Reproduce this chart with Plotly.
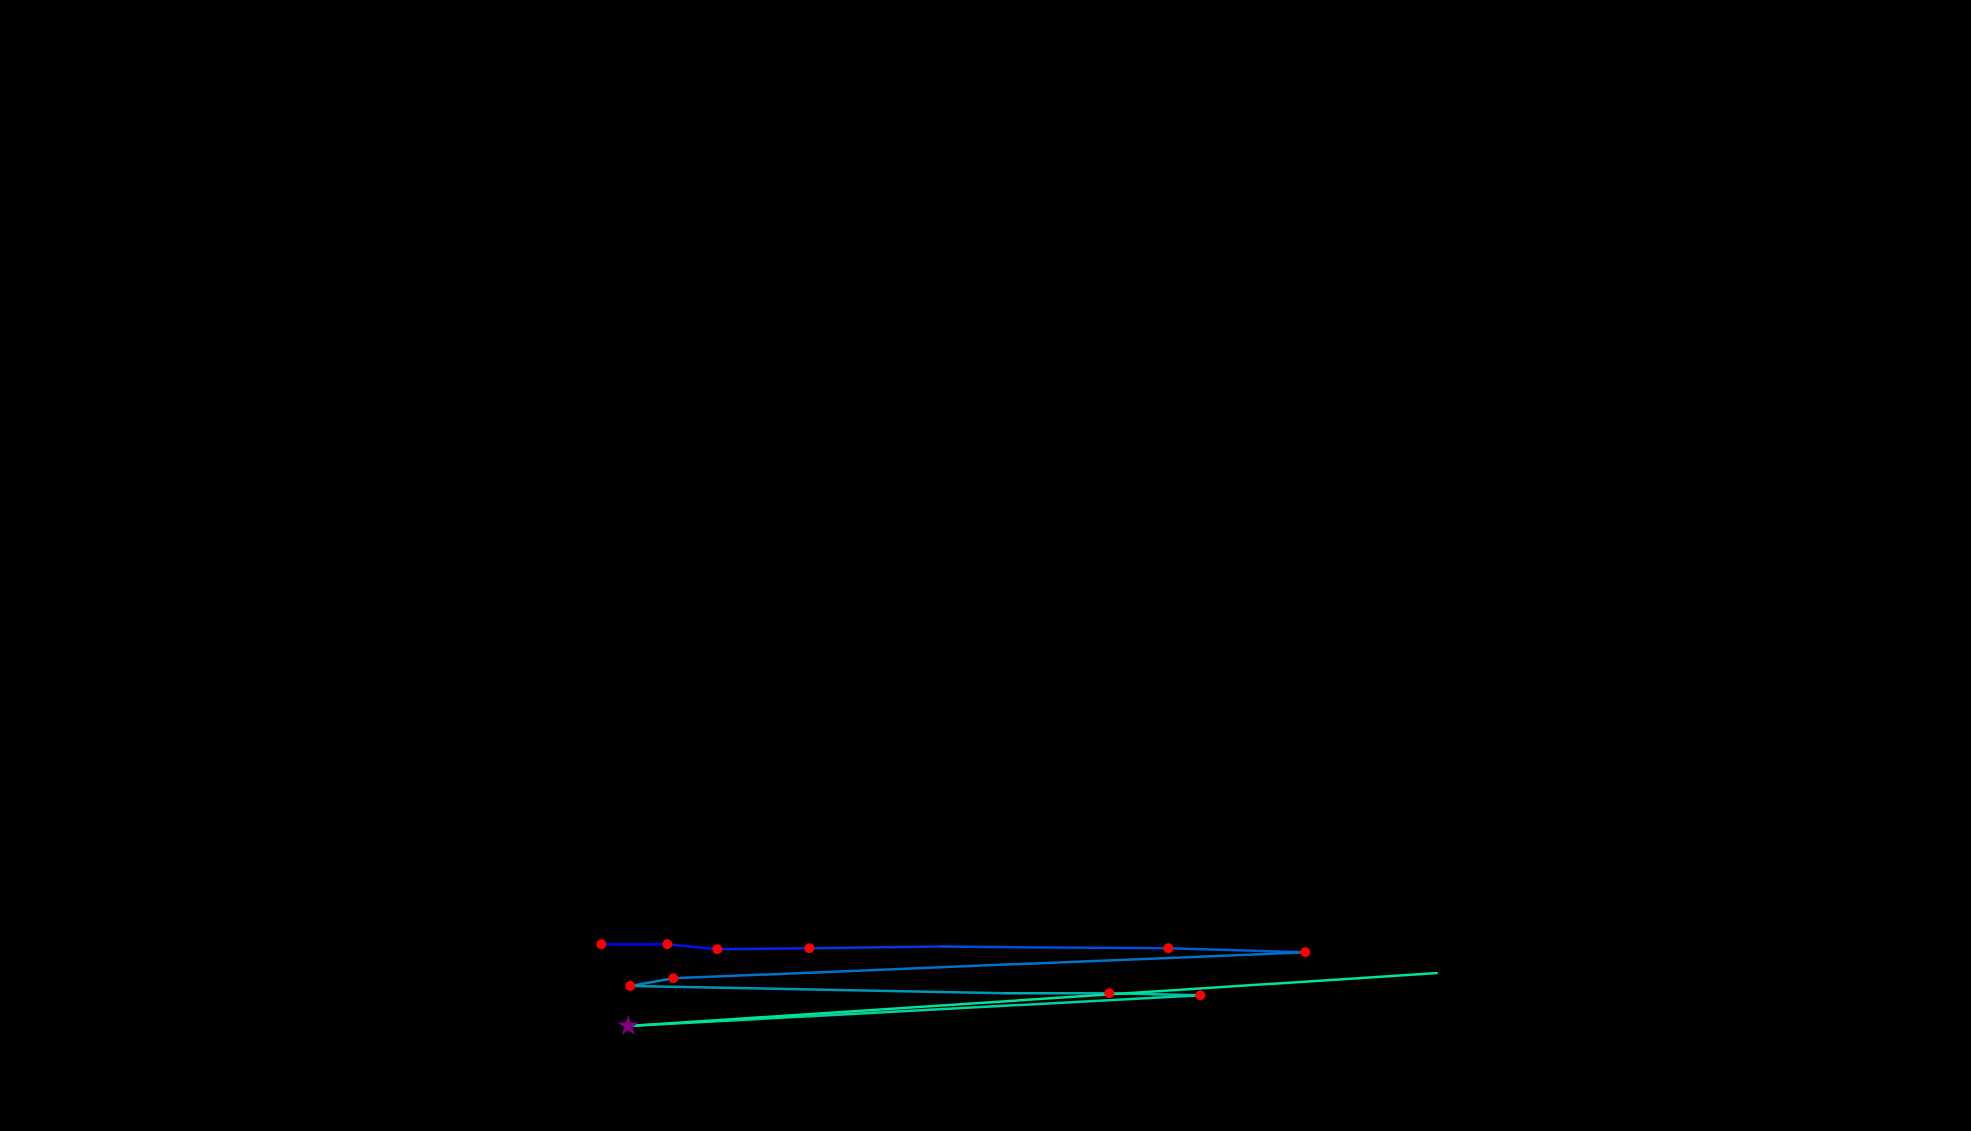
import plotly.graph_objects as go

# Path vertices (chart units = pixel position in the 1971x1131 canvas, y measured from top)
path_x = [601.3, 667.3, 717.3, 809.3, 940.0, 1168.3, 1305.3, 673.3, 630.3, 1005.0, 1109.3, 1200.3, 628.3, 1437.7]
path_y = [944.3, 944.3, 949.3, 948.3, 946.6, 948.3, 952.3, 978.3, 986.0, 993.3, 993.3, 995.3, 1026.0, 973.0]

# Marked stops (red dots)
stop_x = [601.3, 667.3, 717.3, 809.3, 1168.3, 1305.3, 673.3, 630.3, 1109.3, 1200.3]
stop_y = [944.3, 944.3, 949.3, 948.3, 948.3, 952.3, 978.3, 986.0, 993.3, 995.3]

# Current position (purple star)
star_x = [628.3]
star_y = [1026.0]

W, H = 1971, 1131

START_RGB = (0, 0, 255)
END_RGB = (0, 228, 150)


def grad(t):
    c = [round(a + (b - a) * t) for a, b in zip(START_RGB, END_RGB)]
    return f"rgb({c[0]},{c[1]},{c[2]})"


fig = go.Figure()
n_seg = len(path_x) - 1
for i in range(n_seg):
    t = i / (n_seg - 1)
    fig.add_trace(go.Scatter(
        x=[path_x[i], path_x[i + 1]],
        y=[path_y[i], path_y[i + 1]],
        mode="lines",
        line=dict(color=grad(t), width=2.5),
        hoverinfo="skip",
        showlegend=False,
    ))

fig.add_trace(go.Scatter(
    x=stop_x, y=stop_y, mode="markers",
    marker=dict(color="red", size=10, line=dict(width=0)),
    showlegend=False, hoverinfo="skip",
))

fig.add_trace(go.Scatter(
    x=star_x, y=star_y, mode="markers",
    marker=dict(color="purple", size=16, symbol="star", line=dict(width=0)),
    showlegend=False, hoverinfo="skip",
))

fig.update_layout(
    width=W, height=H,
    margin=dict(l=0, r=0, t=0, b=0),
    paper_bgcolor="black",
    plot_bgcolor="black",
    xaxis=dict(range=[0, W], visible=False, showgrid=False, zeroline=False),
    yaxis=dict(range=[H, 0], visible=False, showgrid=False, zeroline=False),
)

fig.write_html("out.html")
